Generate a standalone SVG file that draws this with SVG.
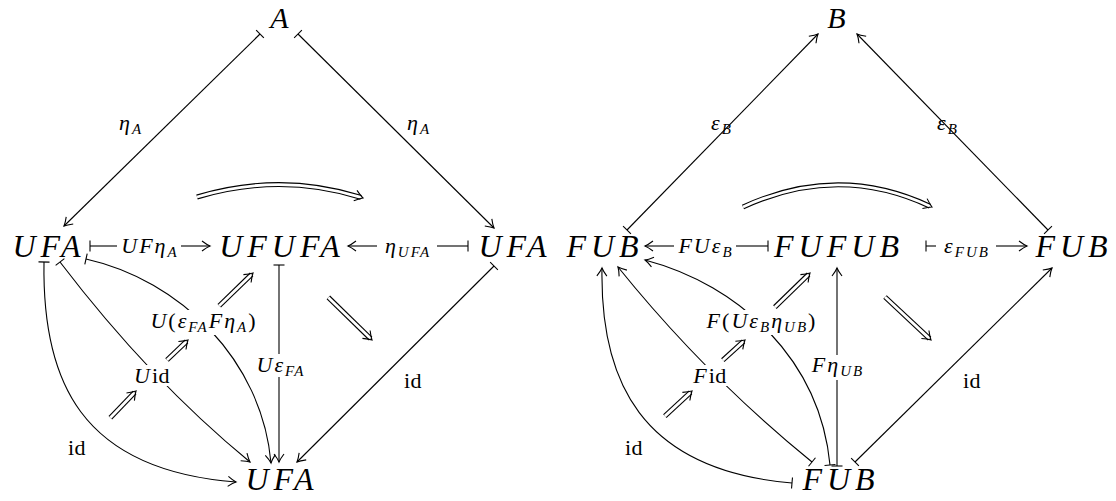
<svg xmlns="http://www.w3.org/2000/svg" width="1116" height="501" viewBox="0 0 1116 501">
<style>
.n{font-family:"Liberation Serif",serif;font-style:italic;font-size:32px;letter-spacing:5px;text-anchor:middle;fill:#000}
.t{font-size:30px}
.l{font-family:"Liberation Serif",serif;font-style:italic;font-size:22px;letter-spacing:2px;text-anchor:middle;fill:#000}
.s{font-size:15px}
.r{font-style:normal}
.id{letter-spacing:0.5px}
.e{fill:none;stroke:#000;stroke-width:1.1}
.ar{marker-end:url(#ah)}
.bs{marker-start:url(#bar)}
.d1{fill:none;stroke:#000;stroke-width:5}
.d2{fill:none;stroke:#fff;stroke-width:2.8}
.bg{fill:#fff}
</style>
<defs>
<marker id="ah" viewBox="-10 -7 12 14" markerWidth="12" markerHeight="14" refX="0" refY="0" orient="auto" markerUnits="userSpaceOnUse">
<path d="M-8,-5 Q-3,-1.2 0,0 Q-3,1.2 -8,5" fill="none" stroke="#000" stroke-width="1.1"/>
</marker>
<marker id="bar" viewBox="-2 -7 4 14" markerWidth="4" markerHeight="14" refX="0" refY="0" orient="auto" markerUnits="userSpaceOnUse">
<path d="M0,-5.5 V5.5" fill="none" stroke="#000" stroke-width="1.1"/>
</marker>
<path id="hd" d="M-8,-5.5 Q-3,-1.5 0,0 Q-3,1.5 -8,5.5" class="e"/>
</defs>

<g id="connectors">
<path class="e bs ar" d="M260,34 L64,226"/>
<path class="e bs ar" d="M298,34 L494,228"/>
<path class="e bs" d="M90,246 H117"/><path class="e ar" d="M181,246 H210"/>
<path class="e bs" d="M468,246 H437"/><path class="e ar" d="M377,246 H348"/>
<path class="e bs" d="M279,265 V354"/><path class="e ar" d="M279,377 V462"/>
<path class="e bs ar" d="M494,266 L297,462"/>
<path class="e bs ar" d="M44,262 C42,380 80,470 236,482"/>
<path class="e bs ar" d="M60,262 Q150,380 250,462"/>
<path class="e bs ar" d="M86,259 C180,280 262,360 271,463"/>
<path class="e bs ar" d="M627,230 L818,34"/>
<path class="e bs ar" d="M1048,230 L857,34"/>
<path class="e bs" d="M768,246 H736"/><path class="e ar" d="M674,246 H645"/>
<path class="e bs" d="M926,246 H936"/><path class="e ar" d="M996,246 H1027"/>
<path class="e bs" d="M837,466 V380"/><path class="e ar" d="M837,355 V268"/>
<path class="e bs ar" d="M855,462 L1052,268"/>
<path class="e bs ar" d="M792,483 C640,470 600,380 602,268"/>
<path class="e bs ar" d="M812,462 Q705,375 618,267"/>
<path class="e bs ar" d="M830,465 C820,360 740,285 645,260"/>
</g>

<g id="labels">
<text class="l" x="131" y="130">η<tspan class="s" dy="4">A</tspan></text>
<text class="l" x="419" y="130">η<tspan class="s" dy="4">A</tspan></text>
<text class="l" x="150" y="253">UFη<tspan class="s" dy="4">A</tspan></text>
<text class="l" x="408" y="253">η<tspan class="s" dy="4">UFA</tspan></text>
<text class="l" x="281" y="372">Uε<tspan class="s" dy="4">FA</tspan></text>
<text class="l r id" x="413" y="388">id</text>
<text class="l r id" x="77" y="455">id</text>
<rect class="bg" x="133" y="365" width="38" height="21"/>
<text class="l" x="152" y="383">U<tspan class="r id">id</tspan></text>
<rect class="bg" x="142" y="310" width="123" height="25"/>
<text class="l" x="204" y="328">U<tspan class="r">(</tspan>ε<tspan class="s" dy="4">FA</tspan><tspan dy="-4">Fη</tspan><tspan class="s" dy="4">A</tspan><tspan class="r" dy="-4">)</tspan></text>
<text class="l" x="722" y="130">ε<tspan class="s" dy="4">B</tspan></text>
<text class="l" x="948" y="130">ε<tspan class="s" dy="4">B</tspan></text>
<text class="l" x="706" y="253">FUε<tspan class="s" dy="4">B</tspan></text>
<text class="l" x="967" y="253">ε<tspan class="s" dy="4">FUB</tspan></text>
<text class="l" x="838" y="372">Fη<tspan class="s" dy="4">UB</tspan></text>
<text class="l r id" x="972" y="388">id</text>
<text class="l r id" x="634" y="455">id</text>
<rect class="bg" x="691" y="365" width="38" height="21"/>
<text class="l" x="710" y="383">F<tspan class="r id">id</tspan></text>
<rect class="bg" x="699" y="310" width="125" height="25"/>
<text class="l" x="762" y="328">F<tspan class="r">(</tspan>Uε<tspan class="s" dy="4">B</tspan><tspan dy="-4">η</tspan><tspan class="s" dy="4">UB</tspan><tspan class="r" dy="-4">)</tspan></text>
</g>

<g id="twocells">
<g transform="translate(136,391) rotate(-46.1)"><path class="d1" d="M-37,0H-2"/><path class="d2" d="M-37,0H-2"/><use href="#hd"/></g>
<g transform="translate(188,340) rotate(-43.6)"><path class="d1" d="M-29,0H-2"/><path class="d2" d="M-29,0H-2"/><use href="#hd"/></g>
<g transform="translate(253,273) rotate(-44.1)"><path class="d1" d="M-47,0H-2"/><path class="d2" d="M-47,0H-2"/><use href="#hd"/></g>
<g transform="translate(372,340) rotate(44.3)"><path class="d1" d="M-61,0H-2"/><path class="d2" d="M-61,0H-2"/><use href="#hd"/></g>
<path class="d1" d="M197,197 Q280,172 361,197.4"/><path class="d2" d="M197,197 Q280,172 361,197.4"/>
<use href="#hd" transform="translate(363,198) rotate(17.4)"/>
<g transform="translate(692,391) rotate(-42.8)"><path class="d1" d="M-37,0H-2"/><path class="d2" d="M-37,0H-2"/><use href="#hd"/></g>
<g transform="translate(745,340) rotate(-42.3)"><path class="d1" d="M-30,0H-2"/><path class="d2" d="M-30,0H-2"/><use href="#hd"/></g>
<g transform="translate(810,273) rotate(-44.2)"><path class="d1" d="M-49,0H-2"/><path class="d2" d="M-49,0H-2"/><use href="#hd"/></g>
<g transform="translate(931,340) rotate(43.1)"><path class="d1" d="M-63,0H-2"/><path class="d2" d="M-63,0H-2"/><use href="#hd"/></g>
<path class="d1" d="M743,207 Q838,163 930,206.2"/><path class="d2" d="M743,207 Q838,163 930,206.2"/>
<use href="#hd" transform="translate(932,207) rotate(25.1)"/>
</g>

<g id="node-A"><text class="n t" x="282" y="28">A</text></g>
<g id="node-UFA-left"><text class="n" x="49" y="257">UFA</text></g>
<g id="node-UFUFA"><text class="n" x="282" y="257">UFUFA</text></g>
<g id="node-UFA-right"><text class="n" x="515" y="257">UFA</text></g>
<g id="node-UFA-bottom"><text class="n" x="282" y="490">UFA</text></g>
<g id="node-B"><text class="n t" x="839" y="28">B</text></g>
<g id="node-FUB-left"><text class="n" x="605" y="257">FUB</text></g>
<g id="node-FUFUB"><text class="n" x="839" y="257">FUFUB</text></g>
<g id="node-FUB-right"><text class="n" x="1074" y="257">FUB</text></g>
<g id="node-FUB-bottom"><text class="n" x="841" y="490">FUB</text></g>
</svg>
